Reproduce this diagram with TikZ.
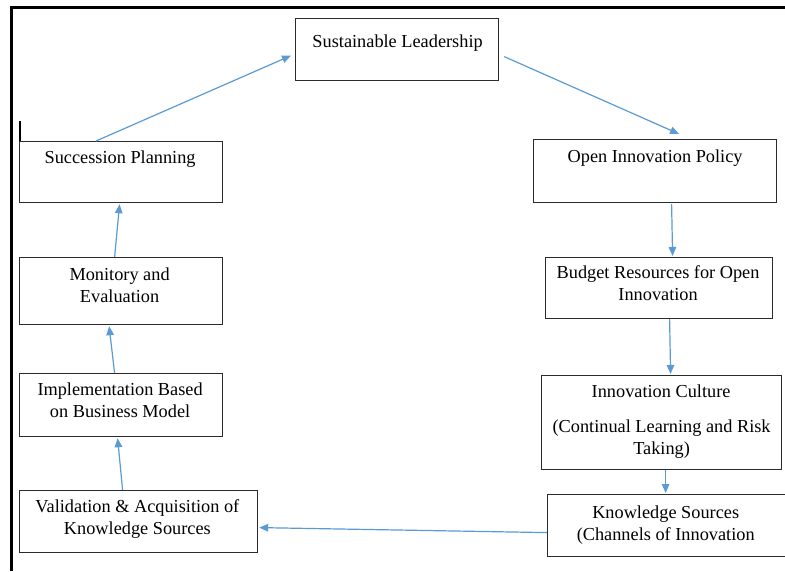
\documentclass[tikz,border=0pt]{standalone}
\usepackage{fontspec}
\setmainfont{Liberation Serif}
\usetikzlibrary{arrows.meta,calc}
\definecolor{flowblue}{HTML}{5B9BD5}
\definecolor{edgegray}{HTML}{2B2B2B}
\begin{document}
\begin{tikzpicture}[x=1pt,y=-1pt,
  box/.style={draw=edgegray,line width=1.2pt,rectangle,inner sep=0pt,anchor=north west},
  txt/.style={anchor=base,inner sep=0pt,align=center,font=\fontsize{18.3}{21.7}\selectfont},
  arr/.style={draw=flowblue,line width=1.2pt,-{Triangle[length=9pt,width=7.5pt]}}]
\useasboundingbox (0,0) rectangle (785,571);
\fill[white] (0,0) rectangle (785,571);
% outer frame
\draw[line width=2.5pt] (11.5,571) -- (11.5,7.5) -- (785,7.5);
\draw[line width=2pt] (20,121) -- (20,141);

% boxes
\node[box,minimum width=203pt,minimum height=62pt] (sl)  at (295,18)  {};
\node[box,minimum width=243pt,minimum height=63pt] (oip) at (533,139) {};
\node[box,minimum width=227pt,minimum height=61pt] (bud) at (545,257) {};
\node[box,minimum width=240pt,minimum height=94pt] (ic)  at (541,375) {};
\node[box,minimum width=243pt,minimum height=62pt] (ks)  at (547,494) {};
\node[box,minimum width=238pt,minimum height=62pt] (val) at (19,490)  {};
\node[box,minimum width=203pt,minimum height=63pt] (imp) at (19,373)  {};
\node[box,minimum width=203pt,minimum height=67pt] (mon) at (19,257)  {};
\node[box,minimum width=203pt,minimum height=61pt] (sp)  at (19,141)  {};

% labels (base anchor of a wrapped label sits on its last line)
\node[txt] (sl-t)  at ($(sl.north)+(0.5,29)$)  {Sustainable Leadership};
\node[txt] (oip-t) at ($(oip.north)+(0,23)$)   {Open Innovation Policy};
\node[txt] (bud-t) at ($(bud.north)+(-1,43)$)  {Budget Resources for Open\\Innovation};
\node[txt] (ic-t)  at ($(ic.north)+(-0.5,22)$) {Innovation Culture};
\node[txt] (ic-s)  at ($(ic.north)+(0,79)$)    {(Continual Learning and Risk\\Taking)};
\node[txt] (ks-t)  at ($(ks.north west)+(118.7,46)$) {Knowledge Sources\\(Channels of Innovation};
\node[txt] (val-t) at ($(val.north)+(-1.2,44)$) {Validation \& Acquisition of\\Knowledge Sources};
\node[txt] (imp-t) at ($(imp.north)+(-1,44)$)  {Implementation Based\\on Business Model};
\node[txt] (mon-t) at ($(mon.north)+(-1.5,45)$) {Monitory and\\Evaluation};
\node[txt] (sp-t)  at ($(sp.north)+(-1,22)$)   {Succession Planning};

% connectors
\draw[arr] ($(sp.north west)+(77,0)$) -- ($(sl.west)+(-4,6)$);
\draw[arr] ($(sl.east)+(5,7)$) -- ($(oip.north)+(24,-5)$);
\draw[arr] ($(oip.south)+(16.5,1)$) -- ($(bud.north)+(13.5,-1)$);
\draw[arr] ($(bud.south)+(10.5,0)$) -- ($(ic.north)+(9,-1)$);
\draw[arr] ($(ic.south)+(4,0)$) -- ($(ks.north)+(-3.5,-1)$);
\draw[arr] ($(ks.west)+(0,7)$) -- ($(val.east)+(1,6)$);
\draw[arr] ($(val.north)+(-16,0)$) -- ($(imp.south)+(-3.5,1)$);
\draw[arr] ($(imp.north)+(-6.5,0)$) -- ($(mon.south)+(-12,1)$);
\draw[arr] ($(mon.north)+(-6.5,0)$) -- ($(sp.south)+(-1.5,1)$);
\end{tikzpicture}
\end{document}
